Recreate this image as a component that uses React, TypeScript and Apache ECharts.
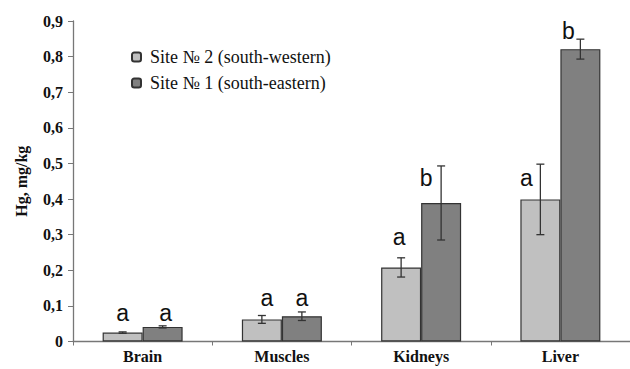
import React, { useEffect, useRef } from "react";
import * as echarts from "echarts";

const categories = ["Brain", "Muscles", "Kidneys", "Liver"];
const seriesNames = ["Site № 2 (south-western)", "Site № 1 (south-eastern)"];
const site2Values = [0.025, 0.062, 0.208, 0.399];
const site2Errors = [0.002, 0.011, 0.027, 0.099];
const site1Values = [0.041, 0.071, 0.389, 0.821];
const site1Errors = [0.003, 0.012, 0.104, 0.028];
const site2Letters = ["a", "a", "a", "a"];
const site1Letters = ["a", "a", "b", "b"];
const site2LetterLevels = [0.08, 0.122, 0.294, 0.458];
const site1LetterLevels = [0.08, 0.122, 0.458, 0.873];
const yTicks = [0, 0.1, 0.2, 0.3, 0.4, 0.5, 0.6, 0.7, 0.8, 0.9];

const BAR_W = 40;
const site2LetterShift = [0, 5, -2, -14];
const site1LetterShift = [3, 0, -15, -12];

function errorRender(offset: number) {
  return (params: any, api: any) => {
    const i = api.value(0);
    const v = api.value(1);
    const e = api.value(2);
    const hi = api.coord([i, v + e]);
    const lo = api.coord([i, v - e]);
    const x = hi[0] + offset;
    const cap = 4;
    const style = { stroke: "#333", lineWidth: 1.3 };
    return {
      type: "group",
      children: [
        { type: "line", shape: { x1: x, y1: hi[1], x2: x, y2: lo[1] }, style },
        { type: "line", shape: { x1: x - cap, y1: hi[1], x2: x + cap, y2: hi[1] }, style },
        { type: "line", shape: { x1: x - cap, y1: lo[1], x2: x + cap, y2: lo[1] }, style },
      ],
    };
  };
}

function letterRender(offset: number, letters: string[], shifts: number[]) {
  return (params: any, api: any) => {
    const i = api.value(0);
    const lvl = api.value(1);
    const p = api.coord([i, lvl]);
    return {
      type: "text",
      x: p[0] + offset + shifts[i],
      y: p[1],
      style: {
        text: letters[i],
        fontFamily: "Arial",
        fontSize: 23,
        fill: "#111",
        align: "center",
        verticalAlign: "middle",
      },
    };
  };
}

export default function App() {
  const ref = useRef<HTMLDivElement>(null);
  useEffect(() => {
    if (!ref.current) return;
    const chart = echarts.init(ref.current, null, { renderer: "svg" });
    const serif = "Times New Roman";
    chart.setOption({
      animation: false,
      backgroundColor: "#fff",
      grid: { left: 73, right: -1, top: 21, bottom: 27.5 },
      legend: {
        orient: "vertical",
        left: 126,
        top: 43,
        itemWidth: 9,
        itemHeight: 9,
        itemGap: 8,
        data: seriesNames,
        textStyle: { fontFamily: serif, fontSize: 18, color: "#111", padding: [0, 0, 0, 4] },
      },
      xAxis: {
        type: "category",
        data: categories,
        axisLine: { lineStyle: { color: "#777", width: 1.3 } },
        axisTick: { show: true, length: 4, lineStyle: { color: "#777" } },
        axisLabel: {
          fontFamily: serif,
          fontWeight: "bold",
          fontSize: 16,
          color: "#111",
          margin: 7,
        },
      },
      yAxis: {
        type: "value",
        min: 0,
        max: 0.9,
        interval: 0.1,
        name: "Hg, mg/kg",
        nameLocation: "middle",
        nameGap: 44,
        nameTextStyle: { fontFamily: serif, fontWeight: "bold", fontSize: 16, color: "#111" },
        axisLine: { show: true, lineStyle: { color: "#777", width: 1.3 } },
        axisTick: { show: true, length: 5, lineStyle: { color: "#777" } },
        splitLine: { show: false },
        axisLabel: {
          fontFamily: serif,
          fontWeight: "bold",
          fontSize: 16,
          color: "#111",
          margin: 10,
          formatter: (v: number) => {
            const t = yTicks.find((y) => Math.abs(y - v) < 1e-9);
            const val = t === undefined ? v : t;
            return val === 0 ? "0" : val.toFixed(1).replace(".", ",");
          },
        },
      },
      series: [
        {
          name: seriesNames[0],
          type: "bar",
          data: site2Values,
          barWidth: BAR_W,
          barGap: "0%",
          itemStyle: { color: "#c0c0c0", borderColor: "#333", borderWidth: 1.2 },
        },
        {
          name: seriesNames[1],
          type: "bar",
          data: site1Values,
          barWidth: BAR_W,
          barGap: "0%",
          itemStyle: { color: "#808080", borderColor: "#333", borderWidth: 1.2 },
        },
        {
          type: "custom",
          renderItem: errorRender(-BAR_W / 2),
          data: site2Values.map((v, i) => [i, v, site2Errors[i]]),
          z: 5,
          silent: true,
        },
        {
          type: "custom",
          renderItem: errorRender(BAR_W / 2),
          data: site1Values.map((v, i) => [i, v, site1Errors[i]]),
          z: 5,
          silent: true,
        },
        {
          type: "custom",
          renderItem: letterRender(-BAR_W / 2, site2Letters, site2LetterShift),
          data: site2LetterLevels.map((v, i) => [i, v]),
          z: 6,
          silent: true,
        },
        {
          type: "custom",
          renderItem: letterRender(BAR_W / 2, site1Letters, site1LetterShift),
          data: site1LetterLevels.map((v, i) => [i, v]),
          z: 6,
          silent: true,
        },
      ],
    });
    return () => chart.dispose();
  }, []);
  return (
    <div
      ref={ref}
      style={{ position: "fixed", left: 0, top: 0, width: 630, height: 369 }}
    />
  );
}
